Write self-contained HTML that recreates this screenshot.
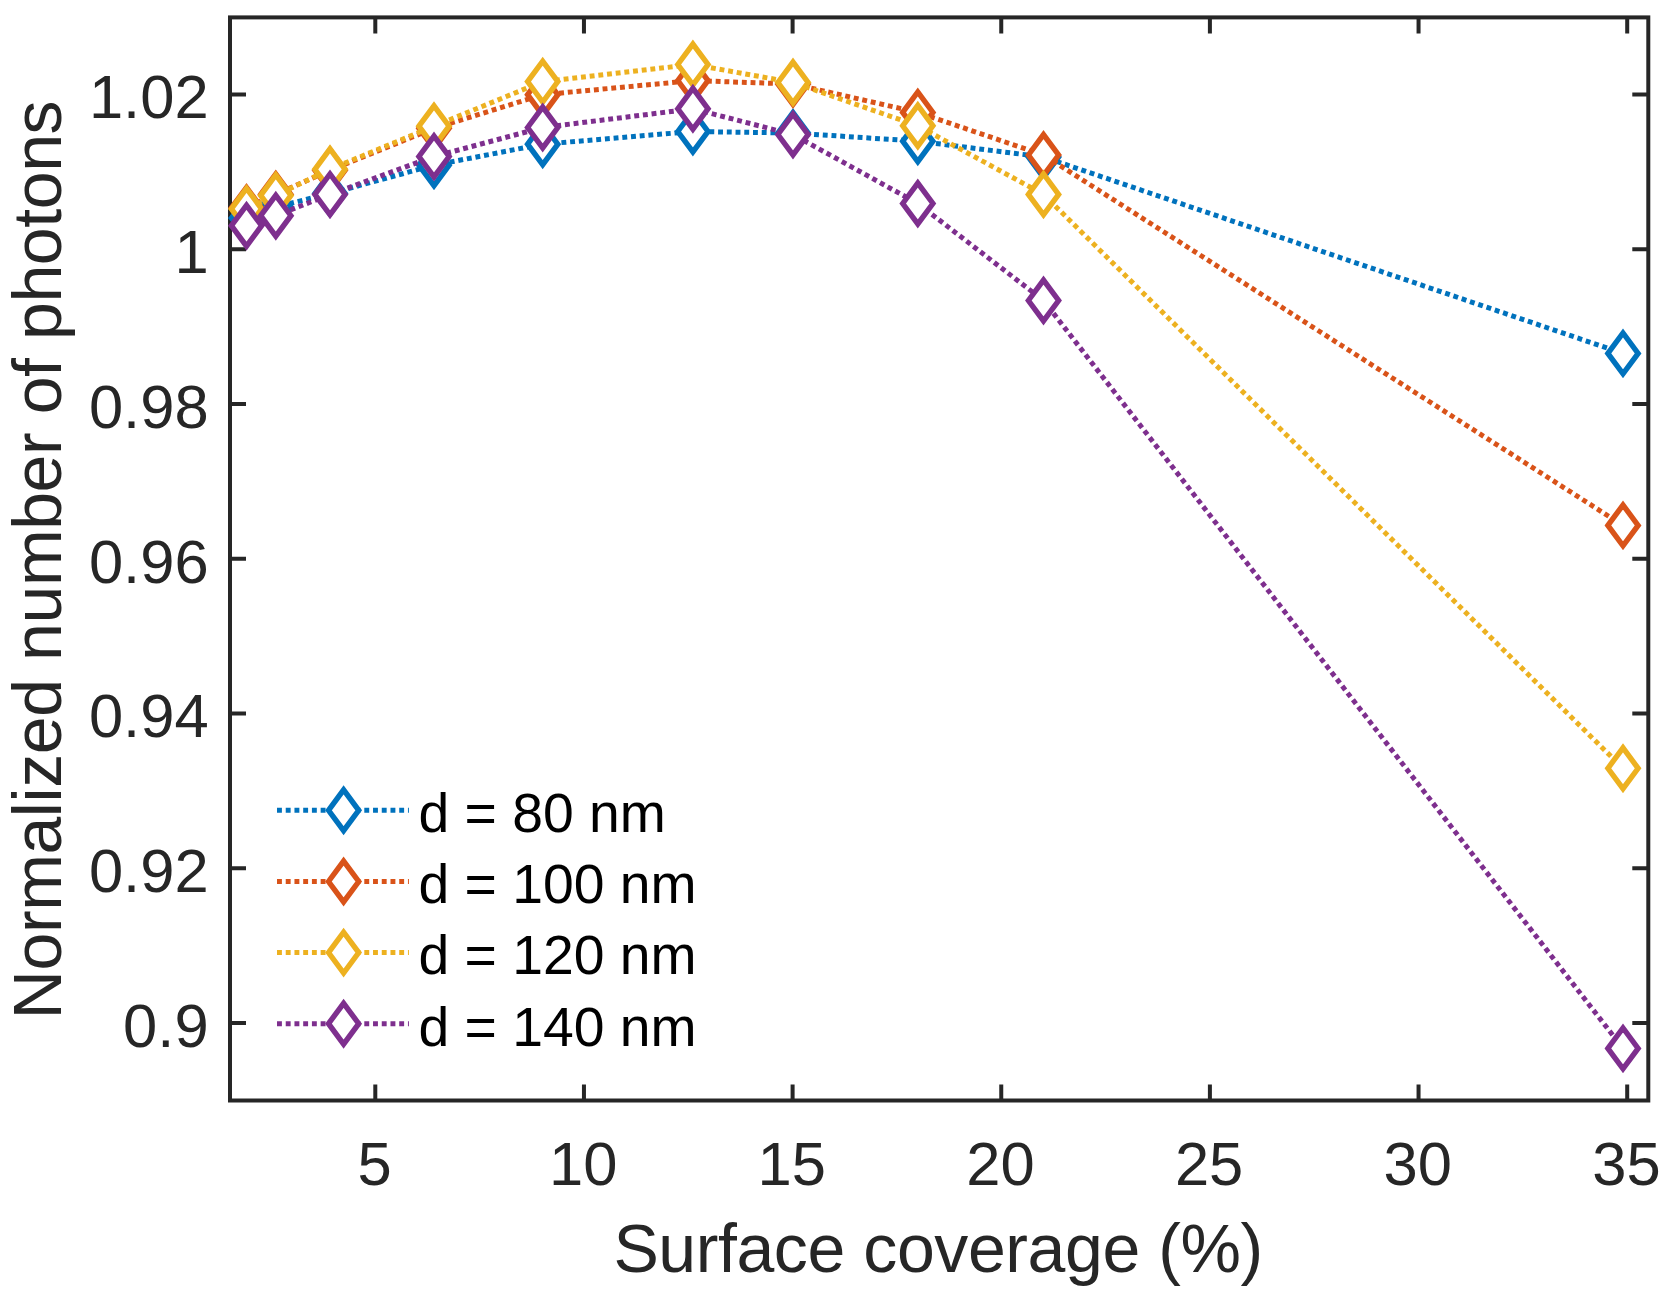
<!DOCTYPE html>
<html lang="en"><head><meta charset="utf-8"><title>Normalized number of photons vs surface coverage</title>
<style>html,body{margin:0;padding:0;background:#fff}body{width:1669px;height:1297px;overflow:hidden}svg{display:block}text{font-family:"Liberation Sans",Arial,Helvetica,sans-serif}</style></head><body>
<svg width="1669" height="1297" viewBox="0 0 1669 1297">
<rect width="1669" height="1297" fill="#fff"/>
<g stroke="#262626" stroke-width="4" fill="none" stroke-linecap="butt">
<rect x="230.0" y="17.4" width="1418.30" height="1083.10"/>
<path d="M375.30 1100.5v-16M375.30 17.4v16"/>
<path d="M583.95 1100.5v-16M583.95 17.4v16"/>
<path d="M792.60 1100.5v-16M792.60 17.4v16"/>
<path d="M1001.25 1100.5v-16M1001.25 17.4v16"/>
<path d="M1209.90 1100.5v-16M1209.90 17.4v16"/>
<path d="M1418.55 1100.5v-16M1418.55 17.4v16"/>
<path d="M1627.20 1100.5v-16M1627.20 17.4v16"/>
<path d="M230.0 1023.00h16M1648.3 1023.00h-16"/>
<path d="M230.0 868.27h16M1648.3 868.27h-16"/>
<path d="M230.0 713.54h16M1648.3 713.54h-16"/>
<path d="M230.0 558.81h16M1648.3 558.81h-16"/>
<path d="M230.0 404.08h16M1648.3 404.08h-16"/>
<path d="M230.0 249.35h16M1648.3 249.35h-16"/>
<path d="M230.0 94.62h16M1648.3 94.62h-16"/>
</g>
<g fill="#262626" font-size="61.5">
<text x="374.50" y="1185" text-anchor="middle">5</text>
<text x="583.15" y="1185" text-anchor="middle">10</text>
<text x="791.80" y="1185" text-anchor="middle">15</text>
<text x="1000.45" y="1185" text-anchor="middle">20</text>
<text x="1209.10" y="1185" text-anchor="middle">25</text>
<text x="1417.75" y="1185" text-anchor="middle">30</text>
<text x="1626.40" y="1185" text-anchor="middle">35</text>
<text x="208.6" y="1046.70" text-anchor="end">0.9</text>
<text x="208.6" y="891.97" text-anchor="end">0.92</text>
<text x="208.6" y="737.24" text-anchor="end">0.94</text>
<text x="208.6" y="582.51" text-anchor="end">0.96</text>
<text x="208.6" y="427.78" text-anchor="end">0.98</text>
<text x="208.6" y="273.05" text-anchor="end">1</text>
<text x="208.6" y="118.32" text-anchor="end">1.02</text>
</g>
<g fill="#262626" font-size="68" letter-spacing="-0.41">
<text x="938.1" y="1272" text-anchor="middle">Surface coverage (%)</text>
<text transform="translate(61 560) rotate(-90)" text-anchor="middle">Normalized number of photons</text>
</g>
<g>
<polyline points="1623.00,353.40 1043.50,157.00 917.80,141.20 793.00,133.00 692.90,131.50 542.70,144.20 434.00,165.20 330.00,193.50 275.80,207.00 246.50,218.00" fill="none" stroke="#0072BD" stroke-width="5" stroke-dasharray="4.9 3.83" stroke-dashoffset="0.45" stroke-linejoin="round"/>
<path d="M231.40 218.00L246.50 197.60L261.60 218.00L246.50 238.40ZM260.70 207.00L275.80 186.60L290.90 207.00L275.80 227.40ZM314.90 193.50L330.00 173.10L345.10 193.50L330.00 213.90ZM418.90 165.20L434.00 144.80L449.10 165.20L434.00 185.60ZM527.60 144.20L542.70 123.80L557.80 144.20L542.70 164.60ZM677.80 131.50L692.90 111.10L708.00 131.50L692.90 151.90ZM777.90 133.00L793.00 112.60L808.10 133.00L793.00 153.40ZM902.70 141.20L917.80 120.80L932.90 141.20L917.80 161.60ZM1028.40 157.00L1043.50 136.60L1058.60 157.00L1043.50 177.40ZM1607.90 353.40L1623.00 333.00L1638.10 353.40L1623.00 373.80Z" fill="#fff" stroke="none"/><path d="M231.40 218.00L246.50 197.60L261.60 218.00L246.50 238.40ZM260.70 207.00L275.80 186.60L290.90 207.00L275.80 227.40ZM314.90 193.50L330.00 173.10L345.10 193.50L330.00 213.90ZM418.90 165.20L434.00 144.80L449.10 165.20L434.00 185.60ZM527.60 144.20L542.70 123.80L557.80 144.20L542.70 164.60ZM677.80 131.50L692.90 111.10L708.00 131.50L692.90 151.90ZM777.90 133.00L793.00 112.60L808.10 133.00L793.00 153.40ZM902.70 141.20L917.80 120.80L932.90 141.20L917.80 161.60ZM1028.40 157.00L1043.50 136.60L1058.60 157.00L1043.50 177.40ZM1607.90 353.40L1623.00 333.00L1638.10 353.40L1623.00 373.80Z" fill="none" stroke="#0072BD" stroke-width="5.4" stroke-linejoin="miter" stroke-miterlimit="10"/>
</g>
<g>
<polyline points="1623.00,525.40 1043.50,155.00 917.80,112.40 793.00,84.00 692.90,80.60 542.70,94.70 434.00,128.30 330.00,170.30 275.80,194.40 246.50,207.90" fill="none" stroke="#D95319" stroke-width="5" stroke-dasharray="4.9 3.83" stroke-dashoffset="0.45" stroke-linejoin="round"/>
<path d="M231.40 207.90L246.50 187.50L261.60 207.90L246.50 228.30ZM260.70 194.40L275.80 174.00L290.90 194.40L275.80 214.80ZM314.90 170.30L330.00 149.90L345.10 170.30L330.00 190.70ZM418.90 128.30L434.00 107.90L449.10 128.30L434.00 148.70ZM527.60 94.70L542.70 74.30L557.80 94.70L542.70 115.10ZM677.80 80.60L692.90 60.20L708.00 80.60L692.90 101.00ZM777.90 84.00L793.00 63.60L808.10 84.00L793.00 104.40ZM902.70 112.40L917.80 92.00L932.90 112.40L917.80 132.80ZM1028.40 155.00L1043.50 134.60L1058.60 155.00L1043.50 175.40ZM1607.90 525.40L1623.00 505.00L1638.10 525.40L1623.00 545.80Z" fill="#fff" stroke="none"/><path d="M231.40 207.90L246.50 187.50L261.60 207.90L246.50 228.30ZM260.70 194.40L275.80 174.00L290.90 194.40L275.80 214.80ZM314.90 170.30L330.00 149.90L345.10 170.30L330.00 190.70ZM418.90 128.30L434.00 107.90L449.10 128.30L434.00 148.70ZM527.60 94.70L542.70 74.30L557.80 94.70L542.70 115.10ZM677.80 80.60L692.90 60.20L708.00 80.60L692.90 101.00ZM777.90 84.00L793.00 63.60L808.10 84.00L793.00 104.40ZM902.70 112.40L917.80 92.00L932.90 112.40L917.80 132.80ZM1028.40 155.00L1043.50 134.60L1058.60 155.00L1043.50 175.40ZM1607.90 525.40L1623.00 505.00L1638.10 525.40L1623.00 545.80Z" fill="none" stroke="#D95319" stroke-width="5.4" stroke-linejoin="miter" stroke-miterlimit="10"/>
</g>
<g>
<polyline points="1623.00,768.30 1043.50,194.40 917.80,125.80 793.00,82.50 692.90,64.50 542.70,81.60 434.00,126.20 330.00,169.30 275.80,195.40 246.50,208.90" fill="none" stroke="#EDB120" stroke-width="5" stroke-dasharray="4.9 3.83" stroke-dashoffset="0.45" stroke-linejoin="round"/>
<path d="M231.40 208.90L246.50 188.50L261.60 208.90L246.50 229.30ZM260.70 195.40L275.80 175.00L290.90 195.40L275.80 215.80ZM314.90 169.30L330.00 148.90L345.10 169.30L330.00 189.70ZM418.90 126.20L434.00 105.80L449.10 126.20L434.00 146.60ZM527.60 81.60L542.70 61.20L557.80 81.60L542.70 102.00ZM677.80 64.50L692.90 44.10L708.00 64.50L692.90 84.90ZM777.90 82.50L793.00 62.10L808.10 82.50L793.00 102.90ZM902.70 125.80L917.80 105.40L932.90 125.80L917.80 146.20ZM1028.40 194.40L1043.50 174.00L1058.60 194.40L1043.50 214.80ZM1607.90 768.30L1623.00 747.90L1638.10 768.30L1623.00 788.70Z" fill="#fff" stroke="none"/><path d="M231.40 208.90L246.50 188.50L261.60 208.90L246.50 229.30ZM260.70 195.40L275.80 175.00L290.90 195.40L275.80 215.80ZM314.90 169.30L330.00 148.90L345.10 169.30L330.00 189.70ZM418.90 126.20L434.00 105.80L449.10 126.20L434.00 146.60ZM527.60 81.60L542.70 61.20L557.80 81.60L542.70 102.00ZM677.80 64.50L692.90 44.10L708.00 64.50L692.90 84.90ZM777.90 82.50L793.00 62.10L808.10 82.50L793.00 102.90ZM902.70 125.80L917.80 105.40L932.90 125.80L917.80 146.20ZM1028.40 194.40L1043.50 174.00L1058.60 194.40L1043.50 214.80ZM1607.90 768.30L1623.00 747.90L1638.10 768.30L1623.00 788.70Z" fill="none" stroke="#EDB120" stroke-width="5.4" stroke-linejoin="miter" stroke-miterlimit="10"/>
</g>
<g>
<polyline points="1623.00,1048.40 1043.50,300.50 917.80,203.50 793.00,134.50 692.90,108.80 542.70,127.50 434.00,156.50 330.00,194.40 275.80,215.70 246.50,225.70" fill="none" stroke="#7E2F8E" stroke-width="5" stroke-dasharray="4.9 3.83" stroke-dashoffset="0.45" stroke-linejoin="round"/>
<path d="M231.40 225.70L246.50 205.30L261.60 225.70L246.50 246.10ZM260.70 215.70L275.80 195.30L290.90 215.70L275.80 236.10ZM314.90 194.40L330.00 174.00L345.10 194.40L330.00 214.80ZM418.90 156.50L434.00 136.10L449.10 156.50L434.00 176.90ZM527.60 127.50L542.70 107.10L557.80 127.50L542.70 147.90ZM677.80 108.80L692.90 88.40L708.00 108.80L692.90 129.20ZM777.90 134.50L793.00 114.10L808.10 134.50L793.00 154.90ZM902.70 203.50L917.80 183.10L932.90 203.50L917.80 223.90ZM1028.40 300.50L1043.50 280.10L1058.60 300.50L1043.50 320.90ZM1607.90 1048.40L1623.00 1028.00L1638.10 1048.40L1623.00 1068.80Z" fill="#fff" stroke="none"/><path d="M231.40 225.70L246.50 205.30L261.60 225.70L246.50 246.10ZM260.70 215.70L275.80 195.30L290.90 215.70L275.80 236.10ZM314.90 194.40L330.00 174.00L345.10 194.40L330.00 214.80ZM418.90 156.50L434.00 136.10L449.10 156.50L434.00 176.90ZM527.60 127.50L542.70 107.10L557.80 127.50L542.70 147.90ZM677.80 108.80L692.90 88.40L708.00 108.80L692.90 129.20ZM777.90 134.50L793.00 114.10L808.10 134.50L793.00 154.90ZM902.70 203.50L917.80 183.10L932.90 203.50L917.80 223.90ZM1028.40 300.50L1043.50 280.10L1058.60 300.50L1043.50 320.90ZM1607.90 1048.40L1623.00 1028.00L1638.10 1048.40L1623.00 1068.80Z" fill="none" stroke="#7E2F8E" stroke-width="5.4" stroke-linejoin="miter" stroke-miterlimit="10"/>
</g>
<path d="M277 810.3H408.9" fill="none" stroke="#0072BD" stroke-width="5" stroke-dasharray="4.9 3.83"/>
<path d="M328.50 810.30L343.60 789.90L358.70 810.30L343.60 830.70Z" fill="#fff" stroke="#0072BD" stroke-width="5.4" stroke-linejoin="miter" stroke-miterlimit="10"/>
<text x="418.4" y="832.10" font-size="55.3" fill="#000">d = 80 nm</text>
<path d="M277 881.5H408.9" fill="none" stroke="#D95319" stroke-width="5" stroke-dasharray="4.9 3.83"/>
<path d="M328.50 881.50L343.60 861.10L358.70 881.50L343.60 901.90Z" fill="#fff" stroke="#D95319" stroke-width="5.4" stroke-linejoin="miter" stroke-miterlimit="10"/>
<text x="418.4" y="903.30" font-size="55.3" fill="#000">d = 100 nm</text>
<path d="M277 952.6H408.9" fill="none" stroke="#EDB120" stroke-width="5" stroke-dasharray="4.9 3.83"/>
<path d="M328.50 952.60L343.60 932.20L358.70 952.60L343.60 973.00Z" fill="#fff" stroke="#EDB120" stroke-width="5.4" stroke-linejoin="miter" stroke-miterlimit="10"/>
<text x="418.4" y="974.40" font-size="55.3" fill="#000">d = 120 nm</text>
<path d="M277 1023.7H408.9" fill="none" stroke="#7E2F8E" stroke-width="5" stroke-dasharray="4.9 3.83"/>
<path d="M328.50 1023.70L343.60 1003.30L358.70 1023.70L343.60 1044.10Z" fill="#fff" stroke="#7E2F8E" stroke-width="5.4" stroke-linejoin="miter" stroke-miterlimit="10"/>
<text x="418.4" y="1045.50" font-size="55.3" fill="#000">d = 140 nm</text>
</svg></body></html>
